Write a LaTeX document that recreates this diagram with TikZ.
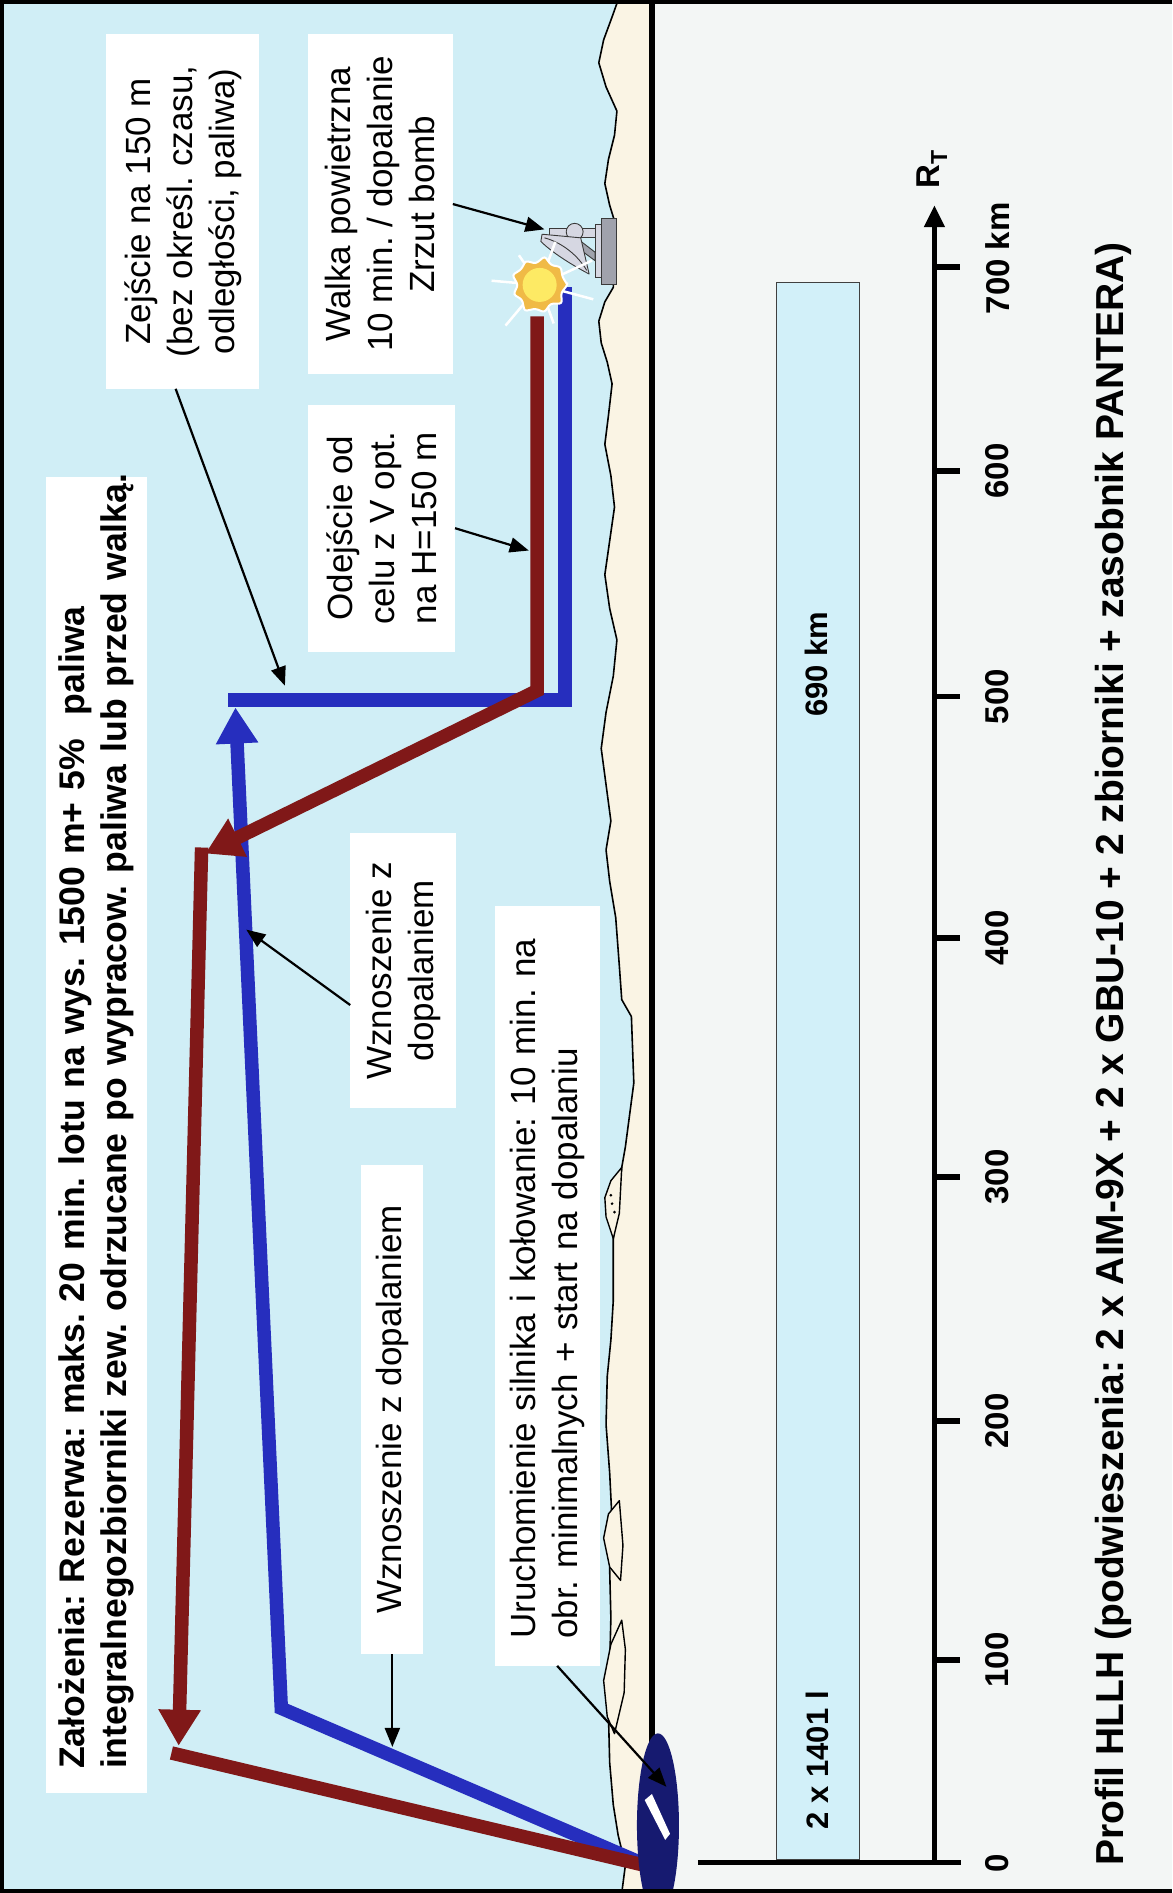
\documentclass[tikz,border=0pt]{standalone}
\usepackage{fontspec}
\setmainfont{Liberation Sans}
\usetikzlibrary{arrows.meta,shapes.geometric,calc}
\definecolor{sky}{RGB}{208,238,246}
\definecolor{sand}{RGB}{250,244,228}
\definecolor{paper}{RGB}{243,246,245}
\definecolor{barfill}{RGB}{210,240,249}
\definecolor{routered}{RGB}{128,24,24}
\definecolor{routeblue}{RGB}{38,46,190}
\definecolor{navy}{RGB}{22,26,112}
\definecolor{flash}{RGB}{253,234,100}
\definecolor{flashrim}{RGB}{240,186,70}
\definecolor{steel}{RGB}{160,162,172}
\definecolor{steellight}{RGB}{214,215,226}
\frenchspacing

\begin{document}
\begin{tikzpicture}[x=1.207pt, y=-1.207pt,
  every node/.style={inner sep=0pt, outer sep=0pt},
  notebox/.style={fill=white, rotate=90, align=center, font=\fontsize{35}{42}\selectfont},
  leftbox/.style={fill=white, rotate=90, align=left},
  callout/.style={draw=black, line width=2.2pt, -{Triangle[length=19pt,width=15pt]}},
  route/.style={line width=13.5pt, line join=miter},
  bigtip/.style={-{Triangle[length=36pt,width=40pt]}},
  scalelbl/.style={rotate=90, font=\bfseries\fontsize{33}{39}\selectfont},
  axtick/.style={line width=5.5pt},
  hardware/.style={draw=gray!45!black, line width=0.9pt},
]
\useasboundingbox (0,0) rectangle (971,1568);

% panels
\fill[sky] (0,0) rectangle (540,1568);
\fill[paper] (540,0) rectangle (971,1568);

% coastline and land strip
\filldraw[fill=sand, draw=black, line width=1.6pt, line join=round]
  (512,0) -- (507,14) -- (500,33) -- (496,52) -- (502,72) -- (511,92) -- (509,112)
  -- (504,132) -- (501,152) -- (505,170) -- (509,183) -- (508,238) -- (501,250)
  -- (496,266) -- (498,284) -- (503,300) -- (507,318) -- (504,344) -- (501,368)
  -- (506,394) -- (509,420) -- (505,448) -- (501,476) -- (505,504) -- (511,530)
  -- (508,560) -- (502,590) -- (498,620) -- (502,650) -- (506,680) -- (502,704)
  -- (505,730) -- (510,760) -- (513,800) -- (515,828) -- (523,842) -- (525,897)
  -- (518,950) -- (515,967) -- (508,1026) -- (508,1077) -- (506,1110) -- (503,1140)
  -- (502,1180) -- (505,1220) -- (507,1260) -- (505,1300) -- (506,1340) -- (505,1380)
  -- (504,1420) -- (505,1460) -- (508,1495) -- (512,1520) -- (518,1545) -- (515,1568)
  -- (540,1568) -- (540,0) -- cycle;
% islets and spits along the shore
\filldraw[fill=sand, draw=black, line width=1.4pt, line join=round]
  (515,967) -- (506,978) -- (501,992) -- (502,1008) -- (508,1026) -- (513,1005) -- cycle;
\fill (506,990) circle (1.2) (507,997) circle (1.2) (509,1004) circle (1.2);
\filldraw[fill=sand, draw=black, line width=1.4pt, line join=round]
  (513,1243) -- (504,1254) -- (500,1274) -- (505,1298) -- (514,1309) -- (516,1280) -- cycle;
\filldraw[fill=sand, draw=black, line width=1.4pt, line join=round]
  (515,1342) -- (506,1362) -- (500,1392) -- (503,1422) -- (509,1436) -- (517,1402) -- (518,1366) -- cycle;

% divider between profile and range panels
\draw[line width=6pt] (540,0) -- (540,1568);

% radar site on the coast
\filldraw[fill=steel, hardware] (498,181) rectangle (511,236);
\filldraw[fill=steellight, hardware] (493,186) rectangle (498,230);
\filldraw[fill=steellight, hardware] (455,189) rectangle (493,197);
\filldraw[fill=steel, hardware] (480,199) -- (493,209) -- (493,216) -- (478,205) -- cycle;
\filldraw[fill=steellight, hardware] (476,192) circle (7);
\filldraw[fill=steellight, hardware, line join=round]
  (449,194) -- (481,197) -- (488,227)
  .. controls (471,218) and (456,208) .. (448,200) -- cycle;
\draw[hardware] (451,197) .. controls (466,201) and (479,212) .. (486,224);

% flight routes
\coordinate (base) at (538,1546);
\coordinate (b1) at (233,1415);
\coordinate (b2) at (195,586);
\coordinate (b3) at (189,580);
\coordinate (b4) at (468,580);
\coordinate (b5) at (468,238);
\coordinate (r0) at (445,262);
\coordinate (r1) at (445,572);
\coordinate (r2) at (170,707);
\coordinate (r3) at (167,702);
\coordinate (r4) at (148,1446);
\coordinate (r5) at (142,1452);

\draw[route, routeblue, bigtip] (base) -- (b1) -- (b2);
\draw[route, routeblue] (b3) -- (b4) -- (b5);
\draw[route, routered, bigtip] (r0) -- (r1) -- (r2);
\draw[route, routered, bigtip] (r3) -- (r4);
\draw[route, routered] (r5) -- (base);

% strike flash: white rays, ragged orange cloud, yellow core
\foreach \a/\l in {15/46, 70/34, 130/44, 185/40, 235/30, 290/38, 335/48}
  \draw[white, line width=2.5pt] (447,236) -- ++(\a:\l);
\filldraw[fill=flashrim, draw=white, line width=2pt, rounded corners=2.5pt]
  (447,236) ++(0:23) -- ++(0,0)
  \foreach \a/\r in {20/19, 40/24, 60/18, 80/23, 100/20, 120/25, 140/19, 160/23,
                     180/18, 200/24, 220/20, 240/23, 260/18, 280/24, 300/19, 320/23, 340/20}
    { -- ($(447,236)+(\a:\r)$) } -- cycle;
\node[circle, minimum size=34pt, fill=flash] (blastcore) at (447,236) {};

% airfield
\node[ellipse, fill=navy, minimum width=42pt, minimum height=184pt] (airfield) at (545,1512) {};
\fill[white] (534,1491) -- (540,1486) -- (555,1519) -- (551,1524) -- cycle;

% labels
\node[leftbox, minimum width=1316pt, minimum height=101pt, text width=1268pt, inner xsep=24pt,
      font=\bfseries\fontsize{35.6}{42}\selectfont] (assume) at (80,940)
  {\mbox{Założenia: Rezerwa: maks. 20 min. lotu na wys. 1500 m+ 5\%~ paliwa}\\
   \mbox{integralnegozbiorniki zew. odrzucane po wypracow. paliwa lub przed walką.}};

\node[notebox, minimum width=355pt, minimum height=153pt] (descent) at (151.5,175)
  {Zejście na 150 m\\(bez określ. czasu,\\odległości, paliwa)};
\node[notebox, minimum width=340pt, minimum height=145pt] (combat) at (315,169)
  {Walka powietrzna\\10 min. / dopalanie\\Zrzut bomb};
\node[notebox, minimum width=247pt, minimum height=147pt] (egress) at (316,437.5)
  {Odejście od\\celu z V opt.\\na H=150 m};
\node[notebox, minimum width=275pt, minimum height=106pt] (climbB) at (334,804)
  {Wznoszenie z\\dopalaniem};
\node[notebox, minimum width=489pt, minimum height=62pt] (climbA) at (325,1167.5)
  {Wznoszenie z dopalaniem};
\node[leftbox, minimum width=760pt, minimum height=105pt, text width=706pt, inner xsep=27pt,
      font=\fontsize{35}{42}\selectfont] (taxi) at (453.5,1065)
  {\mbox{Uruchomienie silnika i kołowanie: 10 min. na}\\
   \mbox{obr. minimalnych + start na dopalaniu}};

% callout arrows
\coordinate (tDescent) at (236,568);
\coordinate (tCombat) at (451,190);
\coordinate (tEgress) at (438,456);
\coordinate (tClimbB) at (204,770);
\coordinate (tClimbA) at (325,1447);
\coordinate (tTaxi) at (552,1480);
\draw[callout] ($(descent.west)+(-6,0)$) -- (tDescent);
\draw[callout] (combat.south) -- (tCombat);
\draw[callout] (egress.south) -- (tEgress);
\draw[callout] ($(climbB.north)!0.25!(climbB.north west)$) -- (tClimbB);
\draw[callout] (climbA.west) -- (tClimbA);
\draw[callout] ($(taxi.west)+(8,0)$) -- (tTaxi);

% range scale
\fill[barfill, draw=black!75, line width=1pt] (643,234) rectangle (712,1540);
\node[scalelbl, font=\bfseries\fontsize{31}{37}\selectfont] (range) at (676,550) {690 km};
\node[scalelbl, font=\bfseries\fontsize{31}{37}\selectfont] (fuel) at (677,1458) {2 x 1401 l};

\draw[line width=5pt] (578,1543) -- (796,1543);
\coordinate (axisEnd) at (774,170);
\coordinate (axisStart) at (774,1543);
\draw[line width=5pt, -{Triangle[length=22pt,width=20pt]}] (axisStart) -- (axisEnd);
\foreach \yy in {1375,1177,975,777,577,390,221}
  \draw[axtick] (774,\yy) -- (795,\yy);
\node[scalelbl] (k0) at (826,1543) {0};
\node[scalelbl] (k100) at (826,1375) {100};
\node[scalelbl] (k200) at (826,1177) {200};
\node[scalelbl] (k300) at (826,975) {300};
\node[scalelbl] (k400) at (826,777) {400};
\node[scalelbl] (k500) at (826,577) {500};
\node[scalelbl] (k600) at (826,390) {600};
\node[scalelbl] (k700) at (826,214) {700 km};
\node[scalelbl] (rt) at (772,140) {R\textsubscript{T}};

\node[rotate=90, font=\bfseries\fontsize{39}{45}\selectfont] (caption) at (922,873)
  {Profil HLLH (podwieszenia: 2 x AIM-9X + 2 x GBU-10 + 2 zbiorniki + zasobnik PANTERA)};

% outer frame
\draw[line width=4pt] (971,1.5) -- (1.5,1.5) -- (1.5,1566.5) -- (971,1566.5);
\end{tikzpicture}
\end{document}
